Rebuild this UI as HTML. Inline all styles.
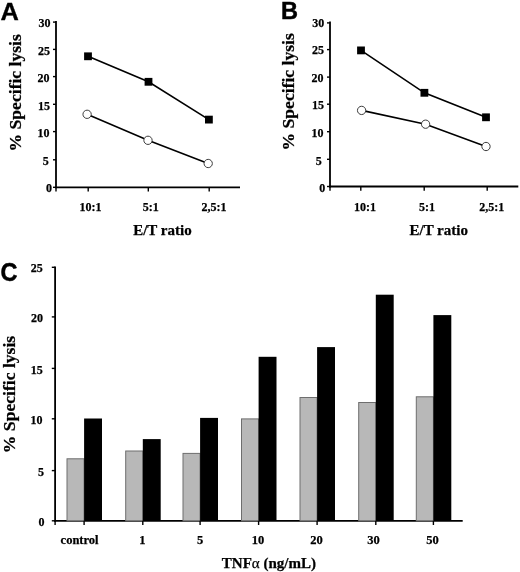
<!DOCTYPE html>
<html><head><meta charset="utf-8"><style>
html,body{margin:0;padding:0;background:#fff;width:520px;height:572px;overflow:hidden}
svg{display:block;position:absolute;left:0;top:0;will-change:transform}
</style></head><body>
<svg width="520" height="572" viewBox="0 0 520 572"><line x1="56.0" y1="21" x2="56.0" y2="188.20000000000002" stroke="#000" stroke-width="1.8"/>
<line x1="55.1" y1="187.3" x2="240" y2="187.3" stroke="#000" stroke-width="1.8"/>
<line x1="53.0" y1="22.1" x2="56.0" y2="22.1" stroke="#000" stroke-width="1.4"/>
<line x1="53.0" y1="49.4" x2="56.0" y2="49.4" stroke="#000" stroke-width="1.4"/>
<line x1="53.0" y1="76.6" x2="56.0" y2="76.6" stroke="#000" stroke-width="1.4"/>
<line x1="53.0" y1="104.3" x2="56.0" y2="104.3" stroke="#000" stroke-width="1.4"/>
<line x1="53.0" y1="131.6" x2="56.0" y2="131.6" stroke="#000" stroke-width="1.4"/>
<line x1="53.0" y1="159.8" x2="56.0" y2="159.8" stroke="#000" stroke-width="1.4"/>
<line x1="53.0" y1="187.3" x2="56.0" y2="187.3" stroke="#000" stroke-width="1.4"/>
<line x1="56.0" y1="187.3" x2="56.0" y2="191.5" stroke="#000" stroke-width="1.4"/>
<line x1="88.2" y1="187.3" x2="88.2" y2="191.5" stroke="#000" stroke-width="1.4"/>
<line x1="148.3" y1="187.3" x2="148.3" y2="191.5" stroke="#000" stroke-width="1.4"/>
<line x1="209.2" y1="187.3" x2="209.2" y2="191.5" stroke="#000" stroke-width="1.4"/>
<text x="50.5" y="27" font-family='"Liberation Serif", serif' font-weight="bold" font-size="12" text-anchor="end" stroke="#000" stroke-width="0.25" >30</text>
<text x="50" y="54.6" font-family='"Liberation Serif", serif' font-weight="bold" font-size="12" text-anchor="end" stroke="#000" stroke-width="0.25" >25</text>
<text x="49.6" y="82" font-family='"Liberation Serif", serif' font-weight="bold" font-size="12" text-anchor="end" stroke="#000" stroke-width="0.25" >20</text>
<text x="50" y="109.6" font-family='"Liberation Serif", serif' font-weight="bold" font-size="12" text-anchor="end" stroke="#000" stroke-width="0.25" >15</text>
<text x="49.6" y="137" font-family='"Liberation Serif", serif' font-weight="bold" font-size="12" text-anchor="end" stroke="#000" stroke-width="0.25" >10</text>
<text x="48.8" y="165.2" font-family='"Liberation Serif", serif' font-weight="bold" font-size="12" text-anchor="end" stroke="#000" stroke-width="0.25" >5</text>
<text x="52" y="192" font-family='"Liberation Serif", serif' font-weight="bold" font-size="12" text-anchor="end" stroke="#000" stroke-width="0.25" >0</text>
<text x="90.4" y="211" font-family='"Liberation Serif", serif' font-weight="bold" font-size="12" text-anchor="middle" stroke="#000" stroke-width="0.25" >10:1</text>
<text x="150.7" y="211" font-family='"Liberation Serif", serif' font-weight="bold" font-size="12" text-anchor="middle" stroke="#000" stroke-width="0.25" >5:1</text>
<text x="213.9" y="211" font-family='"Liberation Serif", serif' font-weight="bold" font-size="12" text-anchor="middle" stroke="#000" stroke-width="0.25" >2,5:1</text>
<text x="162.4" y="235" font-family='"Liberation Serif", serif' font-weight="bold" font-size="15" text-anchor="middle" stroke="#000" stroke-width="0.25" >E/T ratio</text>
<polyline points="88,56.3 148.5,81.8 208.9,119.6" fill="none" stroke="#000" stroke-width="1.6"/>
<polyline points="87.1,114.3 148,140.3 208.2,163.5" fill="none" stroke="#000" stroke-width="1.6"/>
<rect x="84.1" y="52.4" width="7.8" height="7.8" fill="#000"/>
<rect x="144.6" y="77.89999999999999" width="7.8" height="7.8" fill="#000"/>
<rect x="205.0" y="115.69999999999999" width="7.8" height="7.8" fill="#000"/>
<circle cx="87.1" cy="114.3" r="4.15" fill="#fff" stroke="#333" stroke-width="0.95"/>
<circle cx="148" cy="140.3" r="4.15" fill="#fff" stroke="#333" stroke-width="0.95"/>
<circle cx="208.2" cy="163.5" r="4.15" fill="#fff" stroke="#333" stroke-width="0.95"/>
<line x1="330.0" y1="21.5" x2="330.0" y2="187.4" stroke="#000" stroke-width="1.8"/>
<line x1="329.1" y1="186.5" x2="518.3" y2="186.5" stroke="#000" stroke-width="1.8"/>
<line x1="327.0" y1="22.9" x2="330.0" y2="22.9" stroke="#000" stroke-width="1.4"/>
<line x1="327.0" y1="49.6" x2="330.0" y2="49.6" stroke="#000" stroke-width="1.4"/>
<line x1="327.0" y1="77.1" x2="330.0" y2="77.1" stroke="#000" stroke-width="1.4"/>
<line x1="327.0" y1="104.2" x2="330.0" y2="104.2" stroke="#000" stroke-width="1.4"/>
<line x1="327.0" y1="131.7" x2="330.0" y2="131.7" stroke="#000" stroke-width="1.4"/>
<line x1="327.0" y1="159.3" x2="330.0" y2="159.3" stroke="#000" stroke-width="1.4"/>
<line x1="327.0" y1="186.5" x2="330.0" y2="186.5" stroke="#000" stroke-width="1.4"/>
<line x1="330.0" y1="186.5" x2="330.0" y2="190.7" stroke="#000" stroke-width="1.4"/>
<line x1="360.8" y1="186.5" x2="360.8" y2="190.7" stroke="#000" stroke-width="1.4"/>
<line x1="424.2" y1="186.5" x2="424.2" y2="190.7" stroke="#000" stroke-width="1.4"/>
<line x1="487.2" y1="186.5" x2="487.2" y2="190.7" stroke="#000" stroke-width="1.4"/>
<text x="324.2" y="27.4" font-family='"Liberation Serif", serif' font-weight="bold" font-size="12" text-anchor="end" stroke="#000" stroke-width="0.25" >30</text>
<text x="323.9" y="54.4" font-family='"Liberation Serif", serif' font-weight="bold" font-size="12" text-anchor="end" stroke="#000" stroke-width="0.25" >25</text>
<text x="323.5" y="81.6" font-family='"Liberation Serif", serif' font-weight="bold" font-size="12" text-anchor="end" stroke="#000" stroke-width="0.25" >20</text>
<text x="323.9" y="109.2" font-family='"Liberation Serif", serif' font-weight="bold" font-size="12" text-anchor="end" stroke="#000" stroke-width="0.25" >15</text>
<text x="323.5" y="136.6" font-family='"Liberation Serif", serif' font-weight="bold" font-size="12" text-anchor="end" stroke="#000" stroke-width="0.25" >10</text>
<text x="321.7" y="164.6" font-family='"Liberation Serif", serif' font-weight="bold" font-size="12" text-anchor="end" stroke="#000" stroke-width="0.25" >5</text>
<text x="325.29999999999995" y="191.7" font-family='"Liberation Serif", serif' font-weight="bold" font-size="12" text-anchor="end" stroke="#000" stroke-width="0.25" >0</text>
<text x="365" y="210.6" font-family='"Liberation Serif", serif' font-weight="bold" font-size="12" text-anchor="middle" stroke="#000" stroke-width="0.25" >10:1</text>
<text x="427" y="210.6" font-family='"Liberation Serif", serif' font-weight="bold" font-size="12" text-anchor="middle" stroke="#000" stroke-width="0.25" >5:1</text>
<text x="491.8" y="210.6" font-family='"Liberation Serif", serif' font-weight="bold" font-size="12" text-anchor="middle" stroke="#000" stroke-width="0.25" >2,5:1</text>
<text x="438.7" y="235.2" font-family='"Liberation Serif", serif' font-weight="bold" font-size="15" text-anchor="middle" stroke="#000" stroke-width="0.25" >E/T ratio</text>
<polyline points="361,50.4 424.4,92.8 486,117.3" fill="none" stroke="#000" stroke-width="1.6"/>
<polyline points="361.6,110.4 425.6,124.2 486,146.5" fill="none" stroke="#000" stroke-width="1.6"/>
<rect x="357.1" y="46.5" width="7.8" height="7.8" fill="#000"/>
<rect x="420.5" y="88.89999999999999" width="7.8" height="7.8" fill="#000"/>
<rect x="482.1" y="113.39999999999999" width="7.8" height="7.8" fill="#000"/>
<circle cx="361.6" cy="110.4" r="4.15" fill="#fff" stroke="#333" stroke-width="0.95"/>
<circle cx="425.6" cy="124.2" r="4.15" fill="#fff" stroke="#333" stroke-width="0.95"/>
<circle cx="486" cy="146.5" r="4.15" fill="#fff" stroke="#333" stroke-width="0.95"/>
<line x1="55.1" y1="266.5" x2="55.1" y2="521.6999999999999" stroke="#000" stroke-width="1.8"/>
<line x1="54.2" y1="520.8" x2="462.7" y2="520.8" stroke="#000" stroke-width="1.8"/>
<line x1="51.800000000000004" y1="267.3" x2="55.1" y2="267.3" stroke="#000" stroke-width="1.4"/>
<line x1="51.800000000000004" y1="316.9" x2="55.1" y2="316.9" stroke="#000" stroke-width="1.4"/>
<line x1="51.800000000000004" y1="368.4" x2="55.1" y2="368.4" stroke="#000" stroke-width="1.4"/>
<line x1="51.800000000000004" y1="418.8" x2="55.1" y2="418.8" stroke="#000" stroke-width="1.4"/>
<line x1="51.800000000000004" y1="470.6" x2="55.1" y2="470.6" stroke="#000" stroke-width="1.4"/>
<line x1="51.800000000000004" y1="520.8" x2="55.1" y2="520.8" stroke="#000" stroke-width="1.4"/>
<rect x="67.0" y="458.8" width="17.1" height="61.99999999999994" fill="#b8b8b8" stroke="#6e6e6e" stroke-width="1"/>
<rect x="84.1" y="418.5" width="17.9" height="102.29999999999995" fill="#000"/>
<rect x="125.70000000000002" y="451.0" width="17.1" height="69.79999999999995" fill="#b8b8b8" stroke="#6e6e6e" stroke-width="1"/>
<rect x="142.8" y="439.1" width="17.9" height="81.69999999999993" fill="#000"/>
<rect x="183.0" y="453.4" width="17.1" height="67.39999999999998" fill="#b8b8b8" stroke="#6e6e6e" stroke-width="1"/>
<rect x="200.1" y="417.9" width="17.9" height="102.89999999999998" fill="#000"/>
<rect x="241.50000000000003" y="418.9" width="17.1" height="101.89999999999998" fill="#b8b8b8" stroke="#6e6e6e" stroke-width="1"/>
<rect x="258.6" y="356.8" width="17.9" height="163.99999999999994" fill="#000"/>
<rect x="300.0" y="397.5" width="17.1" height="123.29999999999995" fill="#b8b8b8" stroke="#6e6e6e" stroke-width="1"/>
<rect x="317.1" y="347.1" width="17.9" height="173.69999999999993" fill="#000"/>
<rect x="358.7" y="402.5" width="17.1" height="118.29999999999995" fill="#b8b8b8" stroke="#6e6e6e" stroke-width="1"/>
<rect x="375.8" y="294.7" width="17.9" height="226.09999999999997" fill="#000"/>
<rect x="416.29999999999995" y="396.8" width="17.1" height="123.99999999999994" fill="#b8b8b8" stroke="#6e6e6e" stroke-width="1"/>
<rect x="433.4" y="315.1" width="17.9" height="205.69999999999993" fill="#000"/>
<line x1="55.1" y1="520.8" x2="55.1" y2="525.0" stroke="#000" stroke-width="1.4"/>
<line x1="84.1" y1="520.8" x2="84.1" y2="525.0" stroke="#000" stroke-width="1.4"/>
<line x1="142.8" y1="520.8" x2="142.8" y2="525.0" stroke="#000" stroke-width="1.4"/>
<line x1="200.1" y1="520.8" x2="200.1" y2="525.0" stroke="#000" stroke-width="1.4"/>
<line x1="258.6" y1="520.8" x2="258.6" y2="525.0" stroke="#000" stroke-width="1.4"/>
<line x1="317.1" y1="520.8" x2="317.1" y2="525.0" stroke="#000" stroke-width="1.4"/>
<line x1="375.8" y1="520.8" x2="375.8" y2="525.0" stroke="#000" stroke-width="1.4"/>
<line x1="433.4" y1="520.8" x2="433.4" y2="525.0" stroke="#000" stroke-width="1.4"/>
<text x="42.8" y="271.9" font-family='"Liberation Serif", serif' font-weight="bold" font-size="12" text-anchor="end" stroke="#000" stroke-width="0.25" >25</text>
<text x="42.9" y="321.9" font-family='"Liberation Serif", serif' font-weight="bold" font-size="12" text-anchor="end" stroke="#000" stroke-width="0.25" >20</text>
<text x="42.8" y="373.6" font-family='"Liberation Serif", serif' font-weight="bold" font-size="12" text-anchor="end" stroke="#000" stroke-width="0.25" >15</text>
<text x="42.6" y="423.9" font-family='"Liberation Serif", serif' font-weight="bold" font-size="12" text-anchor="end" stroke="#000" stroke-width="0.25" >10</text>
<text x="44.1" y="475.6" font-family='"Liberation Serif", serif' font-weight="bold" font-size="12" text-anchor="end" stroke="#000" stroke-width="0.25" >5</text>
<text x="44.4" y="526.0" font-family='"Liberation Serif", serif' font-weight="bold" font-size="12" text-anchor="end" stroke="#000" stroke-width="0.25" >0</text>
<text x="79.6" y="544.1" font-family='"Liberation Serif", serif' font-weight="bold" font-size="12.5" text-anchor="middle" stroke="#000" stroke-width="0.25" >control</text>
<text x="142.3" y="544.1" font-family='"Liberation Serif", serif' font-weight="bold" font-size="12.5" text-anchor="middle" stroke="#000" stroke-width="0.25" >1</text>
<text x="200" y="544.1" font-family='"Liberation Serif", serif' font-weight="bold" font-size="12.5" text-anchor="middle" stroke="#000" stroke-width="0.25" >5</text>
<text x="258" y="544.1" font-family='"Liberation Serif", serif' font-weight="bold" font-size="12.5" text-anchor="middle" stroke="#000" stroke-width="0.25" >10</text>
<text x="316.4" y="544.1" font-family='"Liberation Serif", serif' font-weight="bold" font-size="12.5" text-anchor="middle" stroke="#000" stroke-width="0.25" >20</text>
<text x="373.6" y="544.1" font-family='"Liberation Serif", serif' font-weight="bold" font-size="12.5" text-anchor="middle" stroke="#000" stroke-width="0.25" >30</text>
<text x="432.5" y="544.1" font-family='"Liberation Serif", serif' font-weight="bold" font-size="12.5" text-anchor="middle" stroke="#000" stroke-width="0.25" >50</text>
<text x="268.9" y="567.5" font-family='"Liberation Serif", serif' font-weight="bold" font-size="15" text-anchor="middle" stroke="#000" stroke-width="0.25" >TNF<tspan font-weight="normal">&#945;</tspan> (ng/mL)</text>
<text x="0" y="0" font-family='"Liberation Serif", serif' font-weight="bold" font-size="17.6" text-anchor="middle" stroke="#000" stroke-width="0.25" transform="translate(20.8,92.8) rotate(-90)">% Specific lysis</text>
<text x="0" y="0" font-family='"Liberation Serif", serif' font-weight="bold" font-size="17.6" text-anchor="middle" stroke="#000" stroke-width="0.25" transform="translate(294.3,91.8) rotate(-90)">% Specific lysis</text>
<text x="0" y="0" font-family='"Liberation Serif", serif' font-weight="bold" font-size="17.6" text-anchor="middle" stroke="#000" stroke-width="0.25" transform="translate(14.5,394.5) rotate(-90)">% Specific lysis</text>
<text x="0" y="0" font-family='"Liberation Sans", sans-serif' font-weight="bold" font-size="24" stroke="#000" stroke-width="0.3" transform="translate(0.4,19.7) scale(1.06,1)">A</text>
<text x="0" y="0" font-family='"Liberation Sans", sans-serif' font-weight="bold" font-size="24" stroke="#000" stroke-width="0.5" transform="translate(281,19.4) scale(0.98,1)">B</text>
<text x="0" y="0" font-family='"Liberation Sans", sans-serif' font-weight="bold" font-size="25.5" stroke="#000" stroke-width="0.5" transform="translate(0.6,281.0) scale(0.92,1)">C</text></svg>
</body></html>
